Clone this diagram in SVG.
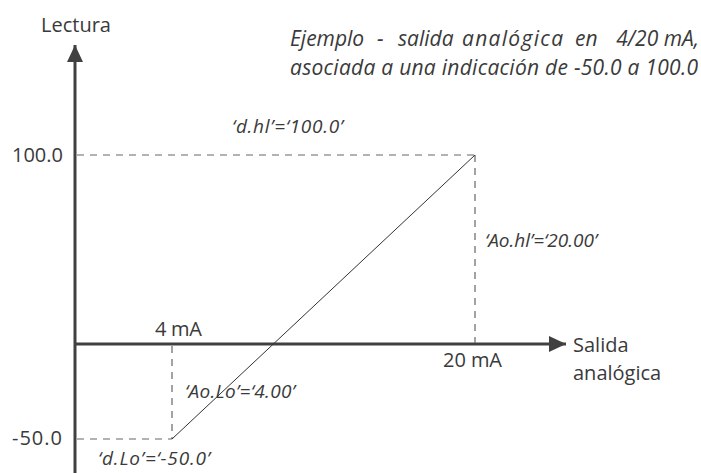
<svg xmlns="http://www.w3.org/2000/svg" width="701" height="473" viewBox="0 0 701 473">
<defs>
<style>
.t{font-family:"Open Sans","Noto Sans","DejaVu Sans",sans-serif;fill:#3a3a3a;font-size:20px}
.i{font-family:"Open Sans","Noto Sans","DejaVu Sans",sans-serif;fill:#3a3a3a;font-style:italic;font-size:19px}
.h{font-family:"Open Sans","Noto Sans","DejaVu Sans",sans-serif;fill:#3a3a3a;font-style:italic;font-size:21px}
.axis{stroke:#404040;stroke-width:3;fill:none}
.dash{stroke:#666;stroke-width:1.2;stroke-dasharray:7 6;fill:none}
.line{stroke:#333;stroke-width:1;fill:none}
</style>
<marker id="ah" markerUnits="userSpaceOnUse" markerWidth="20" markerHeight="16" refX="17" refY="8" orient="auto">
<path d="M0,0 L17,8 L0,16 Z" fill="#404040"/>
</marker>
</defs>
<g id="connectors">
<line class="axis" x1="75" y1="473" x2="75" y2="45" marker-end="url(#ah)"/>
<line class="axis" x1="75" y1="344" x2="566" y2="344" marker-end="url(#ah)"/>
<line class="dash" x1="77" y1="155" x2="475" y2="155"/>
<line class="dash" x1="475" y1="155" x2="475" y2="343"/>
<line class="dash" x1="77" y1="439" x2="172" y2="439"/>
<line class="dash" x1="172" y1="346" x2="172" y2="439"/>
<line class="line" x1="172" y1="439" x2="475" y2="155"/>
</g>
<g id="title">
<text class="h" y="46"><tspan x="290">Ejemplo</tspan><tspan x="377">-</tspan><tspan x="398">salida</tspan><tspan x="462" textLength="101" lengthAdjust="spacing">analógica</tspan><tspan x="575">en</tspan></text>
<text class="h" x="699" y="46" text-anchor="end">4/20 mA,</text>
<text class="h" x="290" y="75" textLength="408" lengthAdjust="spacing">asociada a una indicación de -50.0 a 100.0</text>
</g>
<g id="axis-labels">
<text class="t" x="41" y="32">Lectura</text>
<text class="t" x="573" y="352">Salida</text>
<text class="t" x="573" y="380">analógica</text>
<text class="t" x="12" y="162" textLength="51" lengthAdjust="spacing">100.0</text>
<text class="t" x="12" y="445" textLength="50" lengthAdjust="spacing">-50.0</text>
<text class="t" x="155" y="336" textLength="47" lengthAdjust="spacing">4 mA</text>
<text class="t" x="443" y="367" textLength="59" lengthAdjust="spacing">20 mA</text>
</g>
<g id="param-labels">
<text class="i" x="232" y="133" textLength="111" lengthAdjust="spacing">‘d.hl’=‘100.0’</text>
<text class="i" x="485" y="247">‘Ao.hl’=‘20.00’</text>
<text class="i" x="185" y="398" textLength="110" lengthAdjust="spacing">‘Ao.Lo’=‘4.00’</text>
<text class="i" x="98" y="465" textLength="112" lengthAdjust="spacing">‘d.Lo’=‘-50.0’</text>
</g>
</svg>
